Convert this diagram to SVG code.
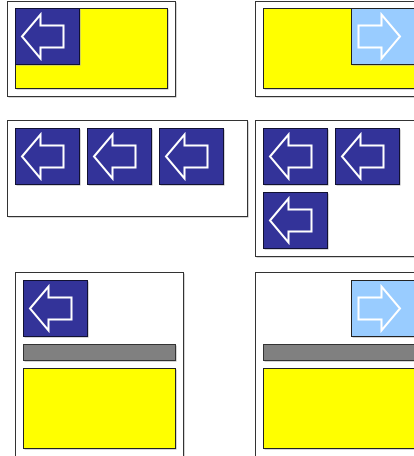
<svg xmlns="http://www.w3.org/2000/svg" width="414" height="456" viewBox="0 0 414 456">
<defs>
<style>
.panel{fill:#ffffff;stroke:#333333;stroke-width:1}
.sh{fill:#aaaaaa}
.yel{fill:#ffff00;stroke:#222222;stroke-width:1}
.dk{fill:#333399;stroke:#111133;stroke-width:1}
.lt{fill:#99ccff;stroke:#222222;stroke-width:1}
.bar{fill:#808080;stroke:#333333;stroke-width:1}
.arr{fill:none;stroke:#ffffff;stroke-width:2}
</style>
<path id="la" class="arr" d="M6.5,28 L25,6 L25,17 L48,17 L48,39 L25,39 L25,50 Z"/>
<path id="ra" class="arr" d="M48.5,28 L30,6 L30,17 L7,17 L7,39 L30,39 L30,50 Z"/>
<g id="dbox"><rect class="sh" x="1" y="1" width="64" height="56"/><rect class="dk" x="0" y="0" width="64" height="56"/><use href="#la"/></g>
<g id="lbox"><rect class="sh" x="1" y="1" width="64" height="56"/><rect class="lt" x="0" y="0" width="64" height="56"/><use href="#ra"/></g>
</defs>
<g id="panel1">
<rect class="sh" x="8.5" y="2.5" width="168" height="95"/>
<rect class="panel" x="7.5" y="1.5" width="168" height="95"/>
<rect class="sh" x="16.5" y="9.5" width="152" height="80"/>
<rect class="yel" x="15.5" y="8.5" width="152" height="80"/>
<use href="#dbox" x="15.5" y="8.5"/>
</g>
<g id="panel2">
<rect class="sh" x="256.5" y="2.5" width="168" height="95"/>
<rect class="panel" x="255.5" y="1.5" width="168" height="95"/>
<rect class="sh" x="264.5" y="9.5" width="152" height="80"/>
<rect class="yel" x="263.5" y="8.5" width="152" height="80"/>
<use href="#lbox" x="351.5" y="8.5"/>
</g>
<g id="panel3">
<rect class="sh" x="8.5" y="121.5" width="240" height="96"/>
<rect class="panel" x="7.5" y="120.5" width="240" height="96"/>
<use href="#dbox" x="15.5" y="128.5"/>
<use href="#dbox" x="87.5" y="128.5"/>
<use href="#dbox" x="159.5" y="128.5"/>
</g>
<g id="panel4">
<rect class="sh" x="256.5" y="121.5" width="168" height="136"/>
<rect class="panel" x="255.5" y="120.5" width="168" height="136"/>
<use href="#dbox" x="263.5" y="128.5"/>
<use href="#dbox" x="335.5" y="128.5"/>
<use href="#dbox" x="263.5" y="192.5"/>
</g>
<g id="panel5">
<rect class="sh" x="16.5" y="273.5" width="168" height="200"/>
<rect class="panel" x="15.5" y="272.5" width="168" height="200"/>
<use href="#dbox" x="23.5" y="280.5"/>
<rect class="sh" x="24.5" y="345.5" width="152" height="16"/>
<rect class="bar" x="23.5" y="344.5" width="152" height="16"/>
<rect class="sh" x="24.5" y="369.5" width="152" height="80"/>
<rect class="yel" x="23.5" y="368.5" width="152" height="80"/>
</g>
<g id="panel6">
<rect class="sh" x="256.5" y="273.5" width="168" height="200"/>
<rect class="panel" x="255.5" y="272.5" width="168" height="200"/>
<use href="#lbox" x="351.5" y="280.5"/>
<rect class="sh" x="264.5" y="345.5" width="152" height="16"/>
<rect class="bar" x="263.5" y="344.5" width="152" height="16"/>
<rect class="sh" x="264.5" y="369.5" width="152" height="80"/>
<rect class="yel" x="263.5" y="368.5" width="152" height="80"/>
</g>
<g id="connectors"/>
</svg>
